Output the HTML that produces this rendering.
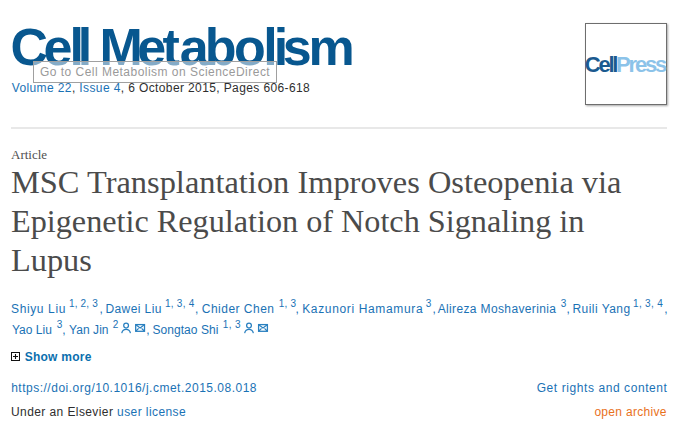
<!DOCTYPE html>
<html><head><meta charset="utf-8">
<style>
html,body{margin:0;padding:0;background:#fff;width:685px;height:433px;overflow:hidden;}
body{position:relative;font-family:"Liberation Sans",sans-serif;}
.abs{position:absolute;white-space:nowrap;}
.lg{top:21px;font-weight:bold;font-size:52px;color:#08578f;line-height:52px;}
#tip{left:33px;top:61px;width:244px;height:22px;border:1px solid #a0a0a0;background:rgba(255,255,255,0.5);box-sizing:border-box;}
a{color:#1a72b5;text-decoration:none;}
#cp{left:585px;top:23px;width:82px;height:82px;border:1px solid #6e6e6e;box-sizing:border-box;box-shadow:1px 1px 2px rgba(0,0,0,0.35);background:#fff;}
#rule{left:11px;top:127px;width:656px;height:2px;background:#e8e8e8;}
.title{left:11px;font-family:"Liberation Serif",serif;font-size:31px;line-height:39px;color:#4b4b4b;transform-origin:0 0;}
</style></head><body>
<div class="abs lg" style="left:10.4px">C</div>
<div class="abs lg" style="left:43.4px">e</div>
<div class="abs lg" style="left:69.5px">l</div>
<div class="abs lg" style="left:77.8px">l</div>
<div class="abs lg" style="left:99.4px">M</div>
<div class="abs lg" style="left:137.2px">e</div>
<div class="abs lg" style="left:162.4px">t</div>
<div class="abs lg" style="left:179.8px">a</div>
<div class="abs lg" style="left:204.7px">b</div>
<div class="abs lg" style="left:234.0px">o</div>
<div class="abs lg" style="left:263.3px">l</div>
<div class="abs lg" style="left:273.8px">i</div>
<div class="abs lg" style="left:282.7px">s</div>
<div class="abs lg" style="left:308.5px">m</div>
<div id="tip" class="abs"></div>
<div class="abs" style="left:40px;top:65px;font-size:12px;line-height:14px;color:#9a9a9a;letter-spacing:0.476px">Go to Cell Metabolism on ScienceDirect</div>
<div class="abs" style="left:11.7px;top:81px;font-size:12px;line-height:14px;color:#2e2e2e;letter-spacing:0.385px"><a>Volume 22</a>, <a>Issue 4</a>, 6 October 2015, Pages 606-618</div>
<div id="cp" class="abs"></div>
<div class="abs" style="left:584.8px;top:52px;font-size:22px;line-height:26px;font-weight:bold"><span style="color:#1b5a8f;letter-spacing:-2.27px">Cell</span><span style="color:#8cc3e9;letter-spacing:-2.2px">Press</span></div>
<div id="rule" class="abs"></div>
<div class="abs" style="left:11px;top:148px;font-family:'Liberation Serif',serif;font-size:13px;line-height:14px;color:#505050">Article</div>
<div class="abs title" style="top:163px;transform:scaleX(1.0457)">MSC Transplantation Improves Osteopenia via</div>
<div class="abs title" style="top:202px;transform:scaleX(1.039)">Epigenetic Regulation of Notch Signaling in</div>
<div class="abs title" style="top:241px;transform:scaleX(1.043)">Lupus</div>
<div class="abs" style="left:11px;top:302px;font-size:12px;line-height:14px;color:#1a72b5;letter-spacing:0.625px">Shiyu Liu</div>
<div class="abs" style="left:105.4px;top:302px;font-size:12px;line-height:14px;color:#1a72b5;letter-spacing:0.412px">Dawei Liu</div>
<div class="abs" style="left:201.8px;top:302px;font-size:12px;line-height:14px;color:#1a72b5;letter-spacing:0.480px">Chider Chen</div>
<div class="abs" style="left:302.2px;top:302px;font-size:12px;line-height:14px;color:#1a72b5;letter-spacing:0.650px">Kazunori Hamamura</div>
<div class="abs" style="left:437.7px;top:302px;font-size:12px;line-height:14px;color:#1a72b5;letter-spacing:0.363px">Alireza Moshaverinia</div>
<div class="abs" style="left:572.4px;top:302px;font-size:12px;line-height:14px;color:#1a72b5;letter-spacing:0.467px">Ruili Yang</div>
<div class="abs" style="left:12px;top:323px;font-size:12px;line-height:14px;color:#1a72b5;letter-spacing:0.000px">Yao Liu</div>
<div class="abs" style="left:69px;top:323px;font-size:12px;line-height:14px;color:#1a72b5;letter-spacing:0.067px">Yan Jin</div>
<div class="abs" style="left:152.5px;top:323px;font-size:12px;line-height:14px;color:#1a72b5;letter-spacing:0.050px">Songtao Shi</div>
<div class="abs" style="left:68.9px;top:297px;font-size:10px;line-height:14px;color:#1a72b5;letter-spacing:0.183px">1, 2, 3</div>
<div class="abs" style="left:165px;top:297px;font-size:10px;line-height:14px;color:#1a72b5;letter-spacing:0.250px">1, 3, 4</div>
<div class="abs" style="left:278.7px;top:297px;font-size:10px;line-height:14px;color:#1a72b5;letter-spacing:0.267px">1, 3</div>
<div class="abs" style="left:425.7px;top:297px;font-size:10px;line-height:14px;color:#1a72b5;letter-spacing:0.100px">3</div>
<div class="abs" style="left:560.7px;top:297px;font-size:10px;line-height:14px;color:#1a72b5;letter-spacing:0.100px">3</div>
<div class="abs" style="left:633px;top:297px;font-size:10px;line-height:14px;color:#1a72b5;letter-spacing:0.333px">1, 3, 4</div>
<div class="abs" style="left:56.7px;top:318px;font-size:10px;line-height:14px;color:#1a72b5;letter-spacing:0.300px">3</div>
<div class="abs" style="left:112.7px;top:318px;font-size:10px;line-height:14px;color:#1a72b5;letter-spacing:0.300px">2</div>
<div class="abs" style="left:222.7px;top:318px;font-size:10px;line-height:14px;color:#1a72b5;letter-spacing:0.400px">1, 3</div>
<div class="abs" style="left:99.5px;top:302px;font-size:12px;line-height:14px;color:#1a72b5">,</div>
<div class="abs" style="left:195.1px;top:302px;font-size:12px;line-height:14px;color:#1a72b5">,</div>
<div class="abs" style="left:295.5px;top:302px;font-size:12px;line-height:14px;color:#1a72b5">,</div>
<div class="abs" style="left:432.4px;top:302px;font-size:12px;line-height:14px;color:#1a72b5">,</div>
<div class="abs" style="left:566.5px;top:302px;font-size:12px;line-height:14px;color:#1a72b5">,</div>
<div class="abs" style="left:664.2px;top:302px;font-size:12px;line-height:14px;color:#1a72b5">,</div>
<div class="abs" style="left:62.2px;top:323px;font-size:12px;line-height:14px;color:#1a72b5">,</div>
<div class="abs" style="left:146.3px;top:323px;font-size:12px;line-height:14px;color:#1a72b5">,</div>
<svg class="abs" style="left:0;top:0" width="685" height="433"><circle cx="126.1" cy="325.6" r="2.4" fill="none" stroke="#2a80c0" stroke-width="1.25"/><path d="M121.9,332.7 A4.3,4.3 0 0 1 130.3,332.7" fill="none" stroke="#2a80c0" stroke-width="1.3" stroke-linecap="round"/><rect x="135.7" y="324.6" width="8.8" height="6.7" fill="none" stroke="#2a80c0" stroke-width="1.3"/><path d="M135.9,324.8 L140.1,327.9 L144.3,324.8 M136,331 L138.6,328.3 M144.2,331 L141.6,328.3" fill="none" stroke="#2a80c0" stroke-width="1.2"/><circle cx="249.0" cy="325.6" r="2.4" fill="none" stroke="#2a80c0" stroke-width="1.25"/><path d="M244.8,332.7 A4.3,4.3 0 0 1 253.20000000000002,332.7" fill="none" stroke="#2a80c0" stroke-width="1.3" stroke-linecap="round"/><rect x="258.6" y="324.6" width="8.8" height="6.7" fill="none" stroke="#2a80c0" stroke-width="1.3"/><path d="M258.8,324.8 L263.0,327.9 L267.20000000000005,324.8 M258.9,331 L261.5,328.3 M267.1,331 L264.5,328.3" fill="none" stroke="#2a80c0" stroke-width="1.2"/><rect x="11.5" y="352.5" width="8" height="8" fill="none" stroke="#111" stroke-width="1"/><path d="M13,356.5 H18 M15.5,354 V359" stroke="#111" stroke-width="1.1"/></svg>
<div class="abs" style="left:24.7px;top:350px;font-size:12px;line-height:14px;font-weight:bold;color:#0b6fae;letter-spacing:0.25px">Show more</div>
<div class="abs" style="left:11.2px;top:381px;font-size:12px;line-height:14px;color:#1a72b5;letter-spacing:0.5px">https://doi.org/10.1016/j.cmet.2015.08.018</div>
<div class="abs" style="left:11px;top:405px;font-size:12px;line-height:14px;color:#2e2e2e;letter-spacing:0.41px">Under an Elsevier <a>user license</a></div>
<div class="abs" style="left:536.7px;top:381px;font-size:12px;line-height:14px;color:#1a72b5;letter-spacing:0.58px">Get rights and content</div>
<div class="abs" style="left:594.4px;top:405px;font-size:12px;line-height:14px;color:#e9711c;letter-spacing:0.31px">open archive</div>
</body></html>
